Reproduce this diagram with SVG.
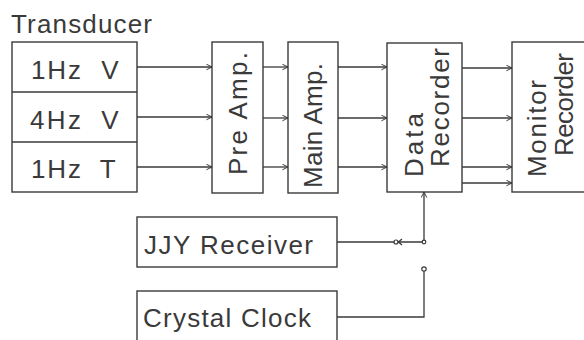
<svg xmlns="http://www.w3.org/2000/svg" width="584" height="340" viewBox="0 0 584 340">
<defs>
<marker id="arr" viewBox="0 0 10 10" refX="9" refY="5" markerWidth="7" markerHeight="7" orient="auto" markerUnits="userSpaceOnUse">
<path d="M1,1 L9,5 L1,9" fill="none" stroke="#3a3a3a" stroke-width="1.4"/>
</marker>
</defs>
<style>
.box{fill:#fff;stroke:#3a3a3a;stroke-width:1.4}
.ln{fill:none;stroke:#3a3a3a;stroke-width:1.3}
.t{font-family:"Liberation Sans","DejaVu Sans",sans-serif;font-size:26px;fill:#3a3a3a}
</style>
<rect width="584" height="340" fill="#fff"/>
<text class="t" x="11" y="33" textLength="141" lengthAdjust="spacing">Transducer</text>
<g id="transducer">
<rect class="box" x="12" y="42" width="125" height="150"/>
<line class="ln" x1="12" y1="92" x2="137" y2="92"/>
<line class="ln" x1="12" y1="142" x2="137" y2="142"/>
<text class="t" y="79"><tspan x="31" textLength="50" lengthAdjust="spacing">1Hz</tspan><tspan x="94"> V</tspan></text>
<text class="t" y="129"><tspan x="30" textLength="51" lengthAdjust="spacing">4Hz</tspan><tspan x="94"> V</tspan></text>
<text class="t" y="178"><tspan x="31" textLength="50" lengthAdjust="spacing">1Hz</tspan><tspan x="93"> T</tspan></text>
</g>
<g id="preamp">
<rect class="box" x="212" y="42" width="51" height="151"/>
<text class="t" transform="translate(247,175) rotate(-90)" textLength="123" lengthAdjust="spacing">Pre Amp.</text>
</g>
<g id="mainamp">
<rect class="box" x="288" y="42" width="50" height="151"/>
<text class="t" transform="translate(322,188) rotate(-90)" textLength="125" lengthAdjust="spacing">Main Amp.</text>
</g>
<g id="datarecorder">
<rect class="box" x="387" y="43" width="75" height="149"/>
<text class="t" transform="translate(423,177) rotate(-90)" textLength="64" lengthAdjust="spacing">Data</text>
<text class="t" transform="translate(449,167) rotate(-90)" textLength="119" lengthAdjust="spacing">Recorder</text>
</g>
<g id="monitorrecorder">
<rect class="box" x="512" y="42" width="80" height="150"/>
<text class="t" transform="translate(546,177) rotate(-90)" textLength="97" lengthAdjust="spacing">Monitor</text>
<text class="t" transform="translate(573,156) rotate(-90)" textLength="103" lengthAdjust="spacing">Recorder</text>
</g>
<g id="jjy">
<rect class="box" x="137" y="217" width="200" height="50"/>
<text class="t" x="144" y="254" textLength="169" lengthAdjust="spacing">JJY Receiver</text>
</g>
<g id="crystal">
<rect class="box" x="137" y="291" width="200" height="60"/>
<text class="t" x="143" y="327" textLength="168" lengthAdjust="spacing">Crystal Clock</text>
</g>
<g id="connectors">
<line class="ln" x1="137" y1="67" x2="212" y2="67" marker-end="url(#arr)"/>
<line class="ln" x1="137" y1="117" x2="212" y2="117" marker-end="url(#arr)"/>
<line class="ln" x1="137" y1="167" x2="212" y2="167" marker-end="url(#arr)"/>
<line class="ln" x1="263" y1="67" x2="288" y2="67" marker-end="url(#arr)"/>
<line class="ln" x1="263" y1="118" x2="288" y2="118" marker-end="url(#arr)"/>
<line class="ln" x1="263" y1="167" x2="288" y2="167" marker-end="url(#arr)"/>
<line class="ln" x1="338" y1="67" x2="387" y2="67" marker-end="url(#arr)"/>
<line class="ln" x1="338" y1="118" x2="387" y2="118" marker-end="url(#arr)"/>
<line class="ln" x1="338" y1="167" x2="387" y2="167" marker-end="url(#arr)"/>
<line class="ln" x1="462" y1="68" x2="512" y2="68" marker-end="url(#arr)"/>
<line class="ln" x1="462" y1="118" x2="512" y2="118" marker-end="url(#arr)"/>
<line class="ln" x1="462" y1="167" x2="512" y2="167" marker-end="url(#arr)"/>
<line class="ln" x1="462" y1="183" x2="512" y2="183" marker-end="url(#arr)"/>
<path class="ln" d="M337,242 H424 V192" marker-end="url(#arr)"/>
<circle cx="396" cy="242" r="2" fill="#fff" stroke="#3a3a3a" stroke-width="1.2"/>
<path class="ln" d="M402,239 L398.5,242 L402,245"/>
<circle cx="424" cy="242" r="1.8" fill="#fff" stroke="#3a3a3a" stroke-width="1.2"/>
<path class="ln" d="M337,317 H424 V271"/>
<circle cx="424" cy="269" r="2.2" fill="#fff" stroke="#3a3a3a" stroke-width="1.2"/>
</g>
</svg>
